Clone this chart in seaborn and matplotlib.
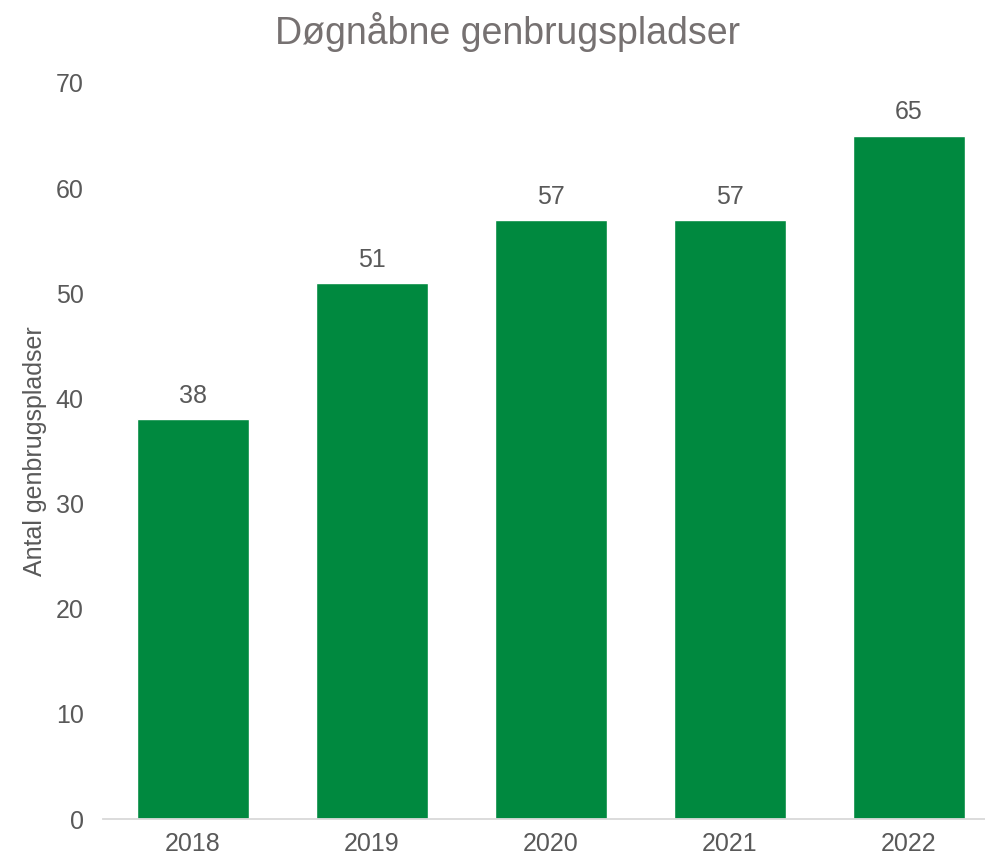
import matplotlib
matplotlib.use("Agg")
import matplotlib.pyplot as plt
import seaborn as sns
import pandas as pd

years = ["2018", "2019", "2020", "2021", "2022"]
counts = [38, 51, 57, 57, 65]

title = "Døgnåbne genbrugspladser"
y_label = "Antal genbrugspladser"

sns.set_style("white")
plt.rcParams['font.family'] = ['Liberation Sans', 'DejaVu Sans']

df = pd.DataFrame({"year": years, "count": counts})

fig = plt.figure(figsize=(9.85, 8.57), dpi=100)
ax = fig.add_axes([0.1046, 0.0443, 0.8954, 0.8589])

sns.barplot(data=df, x="year", y="count", color="#00893F", saturation=1,
            width=0.626, ax=ax)

ax.set_ylim(0, 70)
ax.set_xlim(-0.5, 4.427)
ax.set_yticks(range(0, 71, 10))

for i, v in enumerate(counts):
    ax.annotate(str(v), (i, v), xytext=(0, 8), textcoords="offset points",
                ha="center", va="bottom", fontsize=18, color="#595959")

ax.set_xlabel("")
ax.set_ylabel(y_label, fontsize=18, color="#595959", labelpad=6)
ax.tick_params(axis="both", length=0, labelsize=18, labelcolor="#595959")
ax.tick_params(axis="y", pad=14)
ax.tick_params(axis="x", pad=9)

for s in ["top", "right", "left"]:
    ax.spines[s].set_visible(False)
ax.spines["bottom"].set_color("#D9D9D9")
ax.spines["bottom"].set_linewidth(1.3)

fig.text(0.515, 0.963, title, ha="center", va="center", fontsize=27, color="#767171")

fig.savefig("out.png", dpi=100)
